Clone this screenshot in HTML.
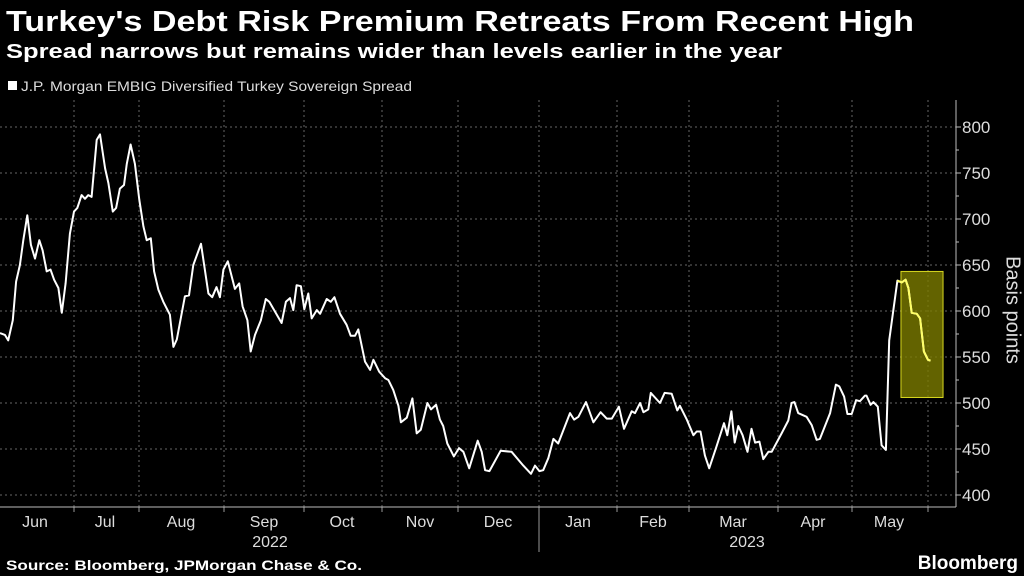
<!DOCTYPE html>
<html><head><meta charset="utf-8">
<style>
html,body{margin:0;padding:0;background:#000;width:1024px;height:576px;overflow:hidden;}
svg{display:block;font-family:"Liberation Sans",sans-serif;}
</style></head>
<body>
<svg id="chart" width="1024" height="576" viewBox="0 0 1024 576">
  <text x="6" y="31" fill="#fff" font-size="29" font-weight="bold" textLength="908" lengthAdjust="spacingAndGlyphs">Turkey's Debt Risk Premium Retreats From Recent High</text>
  <text x="6" y="58" fill="#fff" font-size="20" font-weight="bold" textLength="776" lengthAdjust="spacingAndGlyphs">Spread narrows but remains wider than levels earlier in the year</text>
  <rect x="8" y="81" width="9" height="9" fill="#fff"/>
  <text x="21" y="91" fill="#ddd" font-size="14" textLength="391" lengthAdjust="spacingAndGlyphs">J.P. Morgan EMBIG Diversified Turkey Sovereign Spread</text>
  <g id="grid"></g>
  <g id="axes"></g>
  <rect id="hl" fill="#7c7c00" fill-opacity="0.8" stroke="#d8d820" stroke-width="1"/>
  <path id="line" fill="none" stroke="#fff" stroke-width="2" stroke-linejoin="round"/>
  <path id="line-hl" fill="none" stroke="#ffff66" stroke-width="2" stroke-linejoin="round"/>
  <text x="1012" y="310" fill="#ddd" font-size="20" text-anchor="middle" transform="rotate(90 1012 310)" dominant-baseline="middle">Basis points</text>
  <text x="6" y="570" fill="#fff" font-size="14" font-weight="bold" textLength="356" lengthAdjust="spacingAndGlyphs">Source: Bloomberg, JPMorgan Chase &amp; Co.</text>
  <text x="1018" y="569" fill="#fff" font-size="19" font-weight="bold" text-anchor="end">Bloomberg</text>
</svg>
<script>
// days since 2022-06-01
const days = [1,2.9,4.2,6,7.3,8.8,10.1,11.7,13.1,14.7,16.4,17.7,19.3,20.8,22.2,23.9,25.2,26.7,28.4,30,31.3,33,34.3,35.6,36.9,38.9,40.2,42.2,43.5,45.2,46.5,48,49.6,50.7,52.2,53.9,55.6,57.2,58.5,60.1,61.4,63.1,65,67.6,69,70.3,73.5,75.1,76.8,79.8,82.7,84.2,85.9,87.2,88.6,90.3,93.1,94.8,96.1,98,99.3,101,103.3,105.2,106.6,111.4,113.1,114.7,116,117.3,119,120.3,121.9,123.2,125.2,126.5,129.1,130.7,132.1,134.3,136.9,138.5,140.2,141.5,144.1,146.1,147.4,149.7,152,153.3,155.2,157.2,158.2,160.5,162.7,164.4,166,168.6,170,172,173.5,174.8,176.4,179,181,182.7,185,188.3,189.9,191.2,192.9,197.3,201.6,206.2,209.2,210.8,212.5,214,216,218,219.9,224.5,226.1,227.8,230.8,233.7,236.5,238.9,240.9,243.7,245.7,248.7,250,252,253.3,255.2,256.2,259.8,261.6,264.4,266.6,267.6,270.3,272.9,274.2,275.7,277.4,279.1,282,284.9,286.2,287.8,289.1,290.5,292.2,294.1,295.7,297.1,298.8,300.3,302.3,303.6,307.5,310.1,311.4,312.5,314,317.3,319.3,321.2,322.5,326.5,328.8,330.1,332,333.3,335,336.7,338.2,340.2,340.8,342.4,343.5,345.2,346.7,348.4,349.7,352.9,354.6,356.1,357.2,358.5,360.5,361.8,363.3,364.9,365.9];
const spread = [576,574,568,590,632,650,677,704,672,657,677,666,643,645,634,625,598,630,684,708,712,726,722,726,724,786,792,755,739,708,712,733,737,760,781,760,721,692,677,679,643,623,610,596,561,569,616,617,650,673,619,615,626,615,645,654,624,630,605,590,556,574,590,613,610,587,610,614,601,628,627,602,619,592,601,597,613,610,615,597,585,573,573,580,545,536,547,534,527,525,514,497,479,484,505,467,471,500,493,498,482,475,456,442,451,447,429,459,447,427,426,448,447,432,423,432,426,427,440,461,456,489,482,485,501,479,490,483,483,496,472,491,489,500,490,493,511,500,511,510,492,497,482,465,469,469,443,429,453,478,465,491,457,475,465,447,472,457,458,439,447,447,467,481,500,501,489,485,476,460,461,489,520,518,507,488,488,503,502,508,508,498,501,496,454,449,568,633,631,634,625,598,597,592,556,547,546];
const yTicks = [400,450,500,550,600,650,700,750,800];
const monthLabels = ["Jun","Jul","Aug","Sep","Oct","Nov","Dec","Jan","Feb","Mar","Apr","May"];
const yearLabels = ["2022","2023"];
const highlight = {startDay:354.3, endDay:370.8, low:506, high:643, fromDay:350.5};

const NS="http://www.w3.org/2000/svg";
const xScale = d => -2.5 + d*2.55;
const yScale = v => 495 - (v-400)*0.92;
const PLOT_R = 956, PLOT_B = 507;
const gridX = [74,139,224,304,382,458,539,617,689,778,852,928];
const labelX = [35,105,181,264,342,420,498,578,653,733,813,889];
const yearX = [270,747];
function mk(tag, attrs, parent){const e=document.createElementNS(NS,tag);for(const k in attrs)e.setAttribute(k,attrs[k]);parent.appendChild(e);return e;}
const grid=document.getElementById('grid'), axes=document.getElementById('axes');
yTicks.forEach(t=>{
  const l=mk('line',{x1:0,x2:PLOT_R,y1:yScale(t),y2:yScale(t),stroke:'#666','stroke-dasharray':'2,3','stroke-width':1},grid);
  
  
  const tk=mk('line',{x1:PLOT_R,x2:PLOT_R+5,y1:yScale(t),y2:yScale(t),stroke:'#bbb'},axes);
  
  
  const tx=mk('text',{x:PLOT_R+6,y:yScale(t)+6,fill:'#ddd','font-size':17},axes);
  tx.textContent=t;
  
  
});
for(let v=425;v<800;v+=50){
  const m=mk('line',{x1:PLOT_R,x2:PLOT_R+3,y1:yScale(v),y2:yScale(v),stroke:'#bbb'},axes);
  
  
}
gridX.forEach((x,i)=>{
  const l=mk('line',{x1:x,x2:x,y1:100,y2:PLOT_B,stroke:'#666','stroke-dasharray':'2,3'},grid);
  
  
  const tk=mk('line',{x1:x,x2:x,y1:PLOT_B,y2:i==6?552:PLOT_B+5,stroke:'#999'},axes);
  
  
});
mk('line',{x1:0,x2:PLOT_R,y1:PLOT_B,y2:PLOT_B,stroke:'#bbb'},axes);
mk('line',{x1:PLOT_R,x2:PLOT_R,y1:100,y2:PLOT_B,stroke:'#bbb'},axes);
monthLabels.forEach((m,i)=>{
  const t=mk('text',{x:labelX[i],y:527,fill:'#ddd','font-size':16,'text-anchor':'middle'},axes);
  t.textContent=m;
  
  
});
yearLabels.forEach((y,i)=>{
  const t=mk('text',{x:yearX[i],y:547,fill:'#ddd','font-size':16,'text-anchor':'middle'},axes);
  t.textContent=y;
  
  
});
const hl=document.getElementById('hl');
hl.setAttribute('x',xScale(highlight.startDay));
hl.setAttribute('y',yScale(highlight.high));
hl.setAttribute('width',xScale(highlight.endDay)-xScale(highlight.startDay));
hl.setAttribute('height',yScale(highlight.low)-yScale(highlight.high));
let d='', d2='';
days.forEach((dy,i)=>{
  const p=xScale(dy).toFixed(1)+','+yScale(spread[i]).toFixed(1);
  d+=(i?'L':'M')+p;
  if(dy>=highlight.fromDay) d2+=(d2?'L':'M')+p;
});
document.getElementById('line').setAttribute('d',d);
document.getElementById('line-hl').setAttribute('d',d2);
</script>
</body></html>
